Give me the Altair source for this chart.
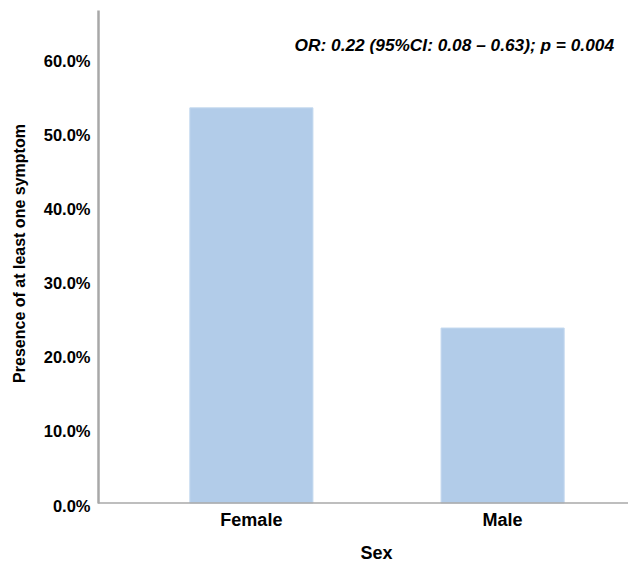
import altair as alt
import pandas as pd

categories = ["Female", "Male"]
values = [0.533, 0.236]
annotation = "OR: 0.22 (95%CI: 0.08 \u2013 0.63); p = 0.004"

df = pd.DataFrame({"Sex": categories, "Pct": values})

FONT = "Liberation Sans"
W, H = 530, 493

bars = alt.Chart(df).mark_bar(color="#b2cce9", stroke="#c4d9ef", strokeWidth=1).encode(
    x=alt.X("Sex:N", sort=categories,
            scale=alt.Scale(range=[29, 529], paddingInner=0.51, paddingOuter=0.25),
            axis=alt.Axis(title="Sex", labelAngle=0, labelFont=FONT, labelFontSize=18,
                          labelFontWeight="bold", labelColor="#000", labelPadding=8,
                          ticks=False, domain=False,
                          titleFont=FONT, titleFontSize=18, titleFontWeight="bold",
                          titleColor="#000", titleX=278, titleY=50, titleBaseline="middle",
                          titleAlign="center")),
    y=alt.Y("Pct:Q", scale=alt.Scale(domain=[0, 0.665], nice=False),
            axis=alt.Axis(title="Presence of at least one symptom", format=".1%",
                          values=[0, 0.1, 0.2, 0.3, 0.4, 0.5, 0.6], grid=False, ticks=False,
                          labelFont=FONT, labelFontSize=16.5, labelFontWeight="bold",
                          labelColor="#000", labelPadding=8, labelOffset=3,
                          domainColor="#a8a8a8",
                          domainWidth=2.5, titleFont=FONT, titleFontSize=16,
                          titleFontWeight="bold", titleColor="#000", titleX=-79,
                          titleY=243, titleBaseline="middle", titleAlign="center",
                          titleAngle=270)),
)

baseline = alt.Chart(pd.DataFrame({"z": [0]})).mark_rule(
    color="#a8a8a8", strokeWidth=1.5
).encode(x=alt.value(0), x2=alt.value(W), y="z:Q")

text = alt.Chart(pd.DataFrame({"t": [annotation]})).mark_text(
    font=FONT, fontSize=17.3, fontWeight="bold", fontStyle="italic", align="right",
    baseline="middle", color="#000"
).encode(x=alt.value(516), y=alt.value(36), text="t:N")

chart = alt.layer(bars, baseline, text).properties(
    width=W, height=H,
    autosize=alt.AutoSizeParams(type="none"),
    padding={"left": 90, "top": 2, "right": 0, "bottom": 61},
).configure_view(stroke=None)

chart.save("out.html", embed_options={"renderer": "svg", "actions": False})
